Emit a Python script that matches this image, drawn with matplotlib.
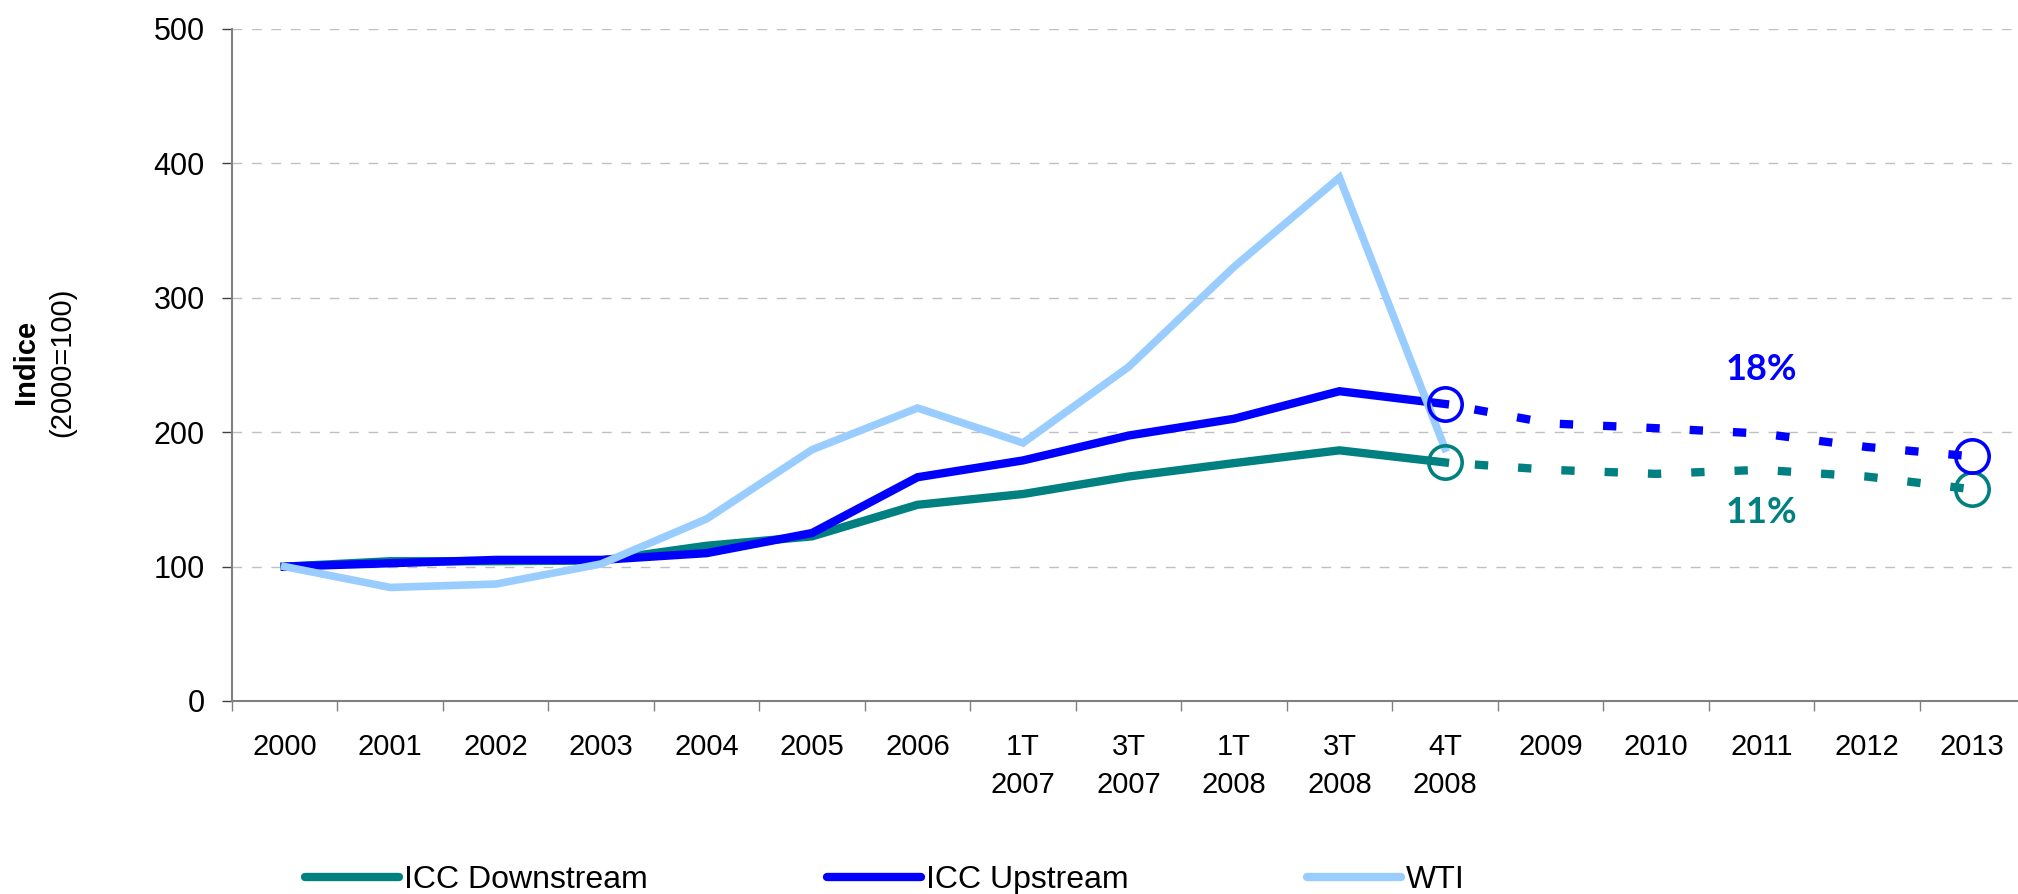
import matplotlib
matplotlib.use("Agg")
import matplotlib.pyplot as plt
from matplotlib.lines import Line2D

plt.rcParams['font.family'] = ['Liberation Sans', 'DejaVu Sans']

# categories on the x axis (two-line labels for the quarters)
categories = ["2000", "2001", "2002", "2003", "2004", "2005", "2006",
              "1T\n2007", "3T\n2007", "1T\n2008", "3T\n2008", "4T\n2008",
              "2009", "2010", "2011", "2012", "2013"]

# observed values, 2000 .. 4T 2008
icc_downstream = [100, 104, 104, 104.5, 115.5, 122.5, 146, 154, 167, 177, 186.5, 177.5]
icc_upstream = [100, 102.5, 105, 105, 110, 125, 166.5, 179, 197.5, 210, 230.5, 221]
wti = [100, 84.5, 87, 102, 135.5, 187, 218, 192, 248.5, 323, 389.5, 188]

# forecasts, 4T 2008 .. 2013
down_forecast = [177.5, 172, 169, 172, 167, 157.5]
up_forecast = [221, 206.5, 203, 199, 189, 182]

teal = "#008080"
blue = "#0000FF"
light = "#99CCFF"

fig = plt.figure(figsize=(20.18, 8.94), dpi=100)
ax = fig.add_axes([232 / 2018, 1 - 701 / 894, 1793 / 2018, 672 / 894])

x_obs = list(range(len(wti)))
x_fc = list(range(len(wti) - 1, len(categories)))

ax.plot(x_obs, icc_downstream, color=teal, lw=6, solid_joinstyle="miter", zorder=3)
ax.plot(x_obs, icc_upstream, color=blue, lw=6, solid_joinstyle="miter", zorder=4)
ax.plot(x_obs, wti, color=light, lw=5.5, solid_joinstyle="miter", zorder=5)

# square dots, starting with a gap after the 4T 2008 point
dots = (1.6, (1.6, 3.6))
ax.plot(x_fc, down_forecast, color=teal, lw=6, ls=dots, zorder=3)
ax.plot(x_fc, up_forecast, color=blue, lw=6, ls=dots, zorder=4)

# open circles on start and end of the forecasts
for series, col in [(down_forecast, teal), (up_forecast, blue)]:
    ax.plot([x_fc[0], x_fc[-1]], [series[0], series[-1]], ls="none", marker="o",
            ms=24, mfc="none", mec=col, mew=2.6, zorder=6)

ax.text(14, 247, "18%", color=blue, fontsize=26, fontweight="bold",
        family=["Lato", "DejaVu Sans"], ha="center", va="center")
ax.text(14, 140, "11%", color=teal, fontsize=26, fontweight="bold",
        family=["Lato", "DejaVu Sans"], ha="center", va="center")

ax.set_xlim(-0.5, len(categories) - 0.5)
ax.set_ylim(0, 500)
ax.set_yticks(range(0, 501, 100))
ax.set_xticks(range(len(categories)))
ax.set_xticklabels(categories, fontsize=21, linespacing=1.45)
ax.set_xticks([i - 0.5 for i in range(len(categories) + 1)], minor=True)
ax.tick_params(axis="x", which="major", length=0, pad=23)
ax.tick_params(axis="x", which="minor", length=7.5, width=1, color="#808080")
ax.tick_params(axis="y", length=7.5, width=1, color="#404040", labelsize=22, pad=12)

ax.grid(axis="y", color="#C0C0C0", ls=(0, (7, 7)), lw=1)
ax.set_axisbelow(True)
for side in ["top", "right"]:
    ax.spines[side].set_visible(False)
for side in ["left", "bottom"]:
    ax.spines[side].set_color("#808080")
    ax.spines[side].set_linewidth(1.5)

fig.text(26 / 2018, 1 - 362 / 894, "Indice", rotation=90, fontsize=21,
         fontweight="bold", ha="center", va="center")
fig.text(62 / 2018, 1 - 362 / 894, "(2000=100)", rotation=90, fontsize=21,
         ha="center", va="center")

handles = [Line2D([], [], color=teal, lw=6, solid_capstyle="round"),
           Line2D([], [], color=blue, lw=6, solid_capstyle="round"),
           Line2D([], [], color=light, lw=6, solid_capstyle="round")]
fig.legend(handles, ["ICC Downstream", "ICC Upstream", "WTI"], ncol=3,
           loc="center left", bbox_to_anchor=(305 / 2018, 1 - 880 / 894),
           frameon=False, fontsize=23, handlelength=2.95, handletextpad=0.15,
           columnspacing=5.6, borderpad=0, borderaxespad=0)

fig.savefig("out.png", dpi=100)
